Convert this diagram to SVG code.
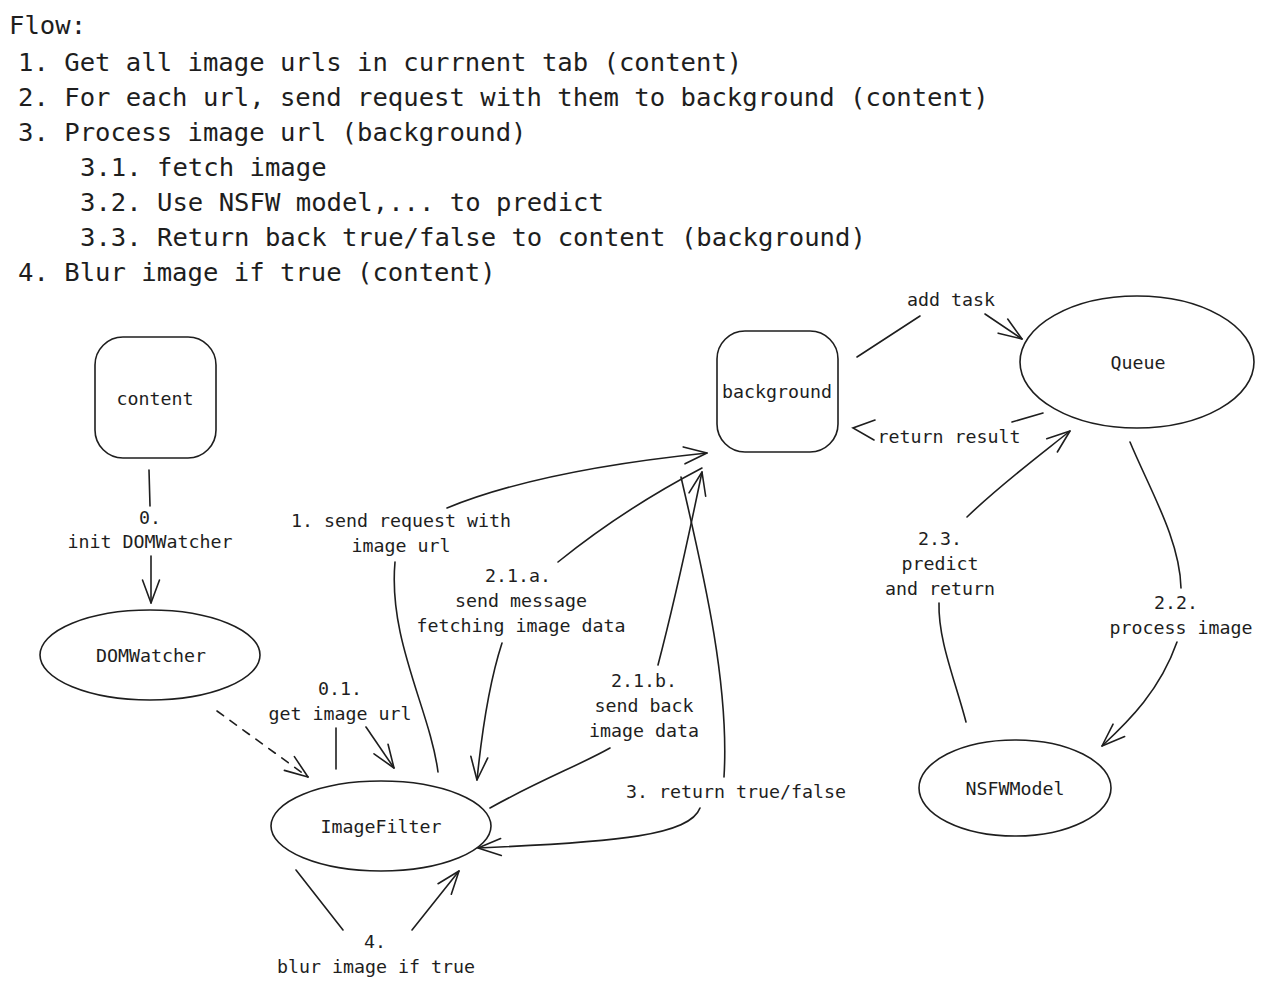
<svg xmlns="http://www.w3.org/2000/svg" width="1263" height="990" viewBox="0 0 1263 990">
<defs>
<style>
text{font-family:"DejaVu Sans Mono","Liberation Mono",monospace;fill:#1e1e1e}
.t{font-size:25.6px}
.l{font-size:18.3px;text-anchor:middle;dominant-baseline:central}
.n{fill:#fff;stroke:#1e1e1e;stroke-width:1.6}
.c{fill:none;stroke:#1e1e1e;stroke-width:1.6;stroke-linecap:round}
.a{marker-end:url(#ah)}
.d{stroke-dasharray:8 8}
</style>
<marker id="ah" viewBox="-26 -13 28 26" refX="0" refY="0" markerWidth="28" markerHeight="26" markerUnits="userSpaceOnUse" orient="auto">
<path d="M-23,-8.5 L0,0 L-23,8.5" fill="none" stroke="#1e1e1e" stroke-width="1.6" stroke-linecap="round" stroke-linejoin="round"/>
</marker>
</defs>
<rect width="1263" height="990" fill="#fff"/>

<g id="title">
<text class="t" x="9" y="34">Flow:</text>
<text class="t" x="18" y="71">1. Get all image urls in currnent tab (content)</text>
<text class="t" x="18" y="106">2. For each url, send request with them to background (content)</text>
<text class="t" x="18" y="141">3. Process image url (background)</text>
<text class="t" x="80" y="176">3.1. fetch image</text>
<text class="t" x="80" y="211">3.2. Use NSFW model,... to predict</text>
<text class="t" x="80" y="246">3.3. Return back true/false to content (background)</text>
<text class="t" x="18" y="281">4. Blur image if true (content)</text>
</g>

<g id="connectors">
<path class="c" d="M149,470 L150,506"/>
<path class="c a" d="M151,556 L151,603"/>
<text class="l" x="150" y="517">0.</text>
<text class="l" x="150" y="541">init DOMWatcher</text>

<path class="c a d" d="M217,711 L308,777"/>

<path class="c" d="M336,728 L336,769"/>
<path class="c a" d="M366,727 L394,768"/>
<text class="l" x="340" y="688">0.1.</text>
<text class="l" x="340" y="713">get image url</text>

<path class="c" d="M438,772 C430,710 388,640 395,562"/>
<path class="c a" d="M447,508 C520,478 620,462 707,453"/>
<text class="l" x="401" y="520">1. send request with</text>
<text class="l" x="401" y="545">image url</text>

<path class="c" d="M558,562 C610,520 660,490 702,468"/>
<path class="c a" d="M502,643 C490,680 482,730 477,780"/>
<text class="l" x="518" y="575">2.1.a.</text>
<text class="l" x="521" y="600">send message</text>
<text class="l" x="521" y="625">fetching image data</text>

<path class="c" d="M490,808 C540,780 580,765 610,748"/>
<path class="c a" d="M658,665 C675,600 690,530 702,472"/>
<text class="l" x="644" y="680">2.1.b.</text>
<text class="l" x="644" y="705">send back</text>
<text class="l" x="644" y="730">image data</text>

<path class="c" d="M681,477 C700,560 730,680 724,777"/>
<path class="c a" d="M700,808 C690,835 620,842 478,848"/>
<text class="l" x="736" y="791">3. return true/false</text>

<path class="c" d="M296,870 L343,930"/>
<path class="c a" d="M412,930 L459,871"/>
<text class="l" x="375" y="941">4.</text>
<text class="l" x="376" y="966">blur image if true</text>

<path class="c" d="M857,357 L920,316"/>
<path class="c a" d="M985,314 L1022,339"/>
<text class="l" x="951" y="299">add task</text>

<path class="c" d="M1043,413 L1012,422"/>
<path class="c" d="M875,420 L853,428 L874,440"/>
<text class="l" x="949" y="436">return result</text>

<path class="c" d="M1130,442 C1150,490 1180,540 1181,588"/>
<path class="c a" d="M1177,642 C1160,690 1130,720 1102,746"/>
<text class="l" x="1176" y="602">2.2.</text>
<text class="l" x="1181" y="627">process image</text>

<path class="c" d="M966,722 C955,680 938,640 939,603"/>
<path class="c a" d="M967,517 C1000,485 1040,455 1070,431"/>
<text class="l" x="940" y="538">2.3.</text>
<text class="l" x="940" y="563">predict</text>
<text class="l" x="940" y="588">and return</text>
</g>

<g id="content">
<rect class="n" x="95" y="337" width="121" height="121" rx="28"/>
<text class="l" x="155" y="398">content</text>
</g>
<g id="background">
<rect class="n" x="717" y="331" width="121" height="121" rx="28"/>
<text class="l" x="777" y="391">background</text>
</g>
<g id="queue">
<ellipse class="n" cx="1137" cy="362" rx="117" ry="66"/>
<text class="l" x="1138" y="362">Queue</text>
</g>
<g id="domwatcher">
<ellipse class="n" cx="150" cy="655" rx="110" ry="45"/>
<text class="l" x="151" y="655">DOMWatcher</text>
</g>
<g id="imagefilter">
<ellipse class="n" cx="381" cy="826" rx="110" ry="45"/>
<text class="l" x="381" y="826">ImageFilter</text>
</g>
<g id="nsfwmodel">
<ellipse class="n" cx="1015" cy="788" rx="96" ry="48"/>
<text class="l" x="1015" y="788">NSFWModel</text>
</g>
</svg>
